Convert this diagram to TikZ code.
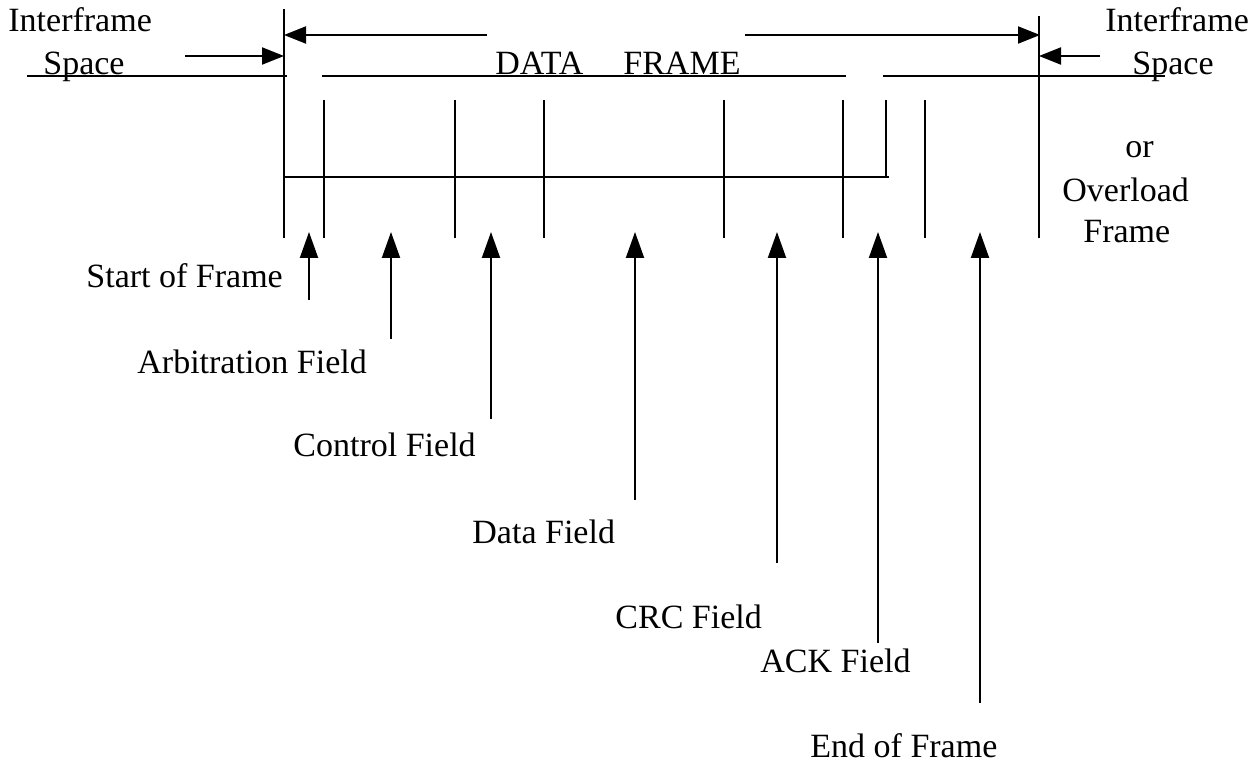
\documentclass[tikz,border=0pt]{standalone}
\usepackage{fontspec}
\setmainfont{Liberation Serif}
\usetikzlibrary{arrows.meta}
\begin{document}
\begin{tikzpicture}[x=0.5pt,y=-0.5pt,
  ln/.style={line width=1pt},
  uparrow/.style={line width=1pt,-{Triangle[length=13pt,width=9pt]}},
  harrow/.style={line width=1pt,-{Triangle[length=11pt,width=8.5pt]}},
  lbl/.style={anchor=base west,inner sep=0pt,font=\fontsize{17}{20}\selectfont}]
\useasboundingbox (0,0) rectangle (1254,763);
% frame lines
\coordinate (lvT) at (284,9);   \coordinate (lvB) at (284,238);
\coordinate (rvT) at (1039,16); \coordinate (rvB) at (1039,238);
\draw[ln] (lvT) -- (lvB);
\draw[ln] (rvT) -- (rvB);
\coordinate (h1a) at (27,76);  \coordinate (h1b) at (287,76);
\coordinate (h2a) at (322,76); \coordinate (h2b) at (846,76);
\coordinate (h3a) at (883,76); \coordinate (h3b) at (1165,76);
\draw[ln] (h1a) -- (h1b);
\draw[ln] (h2a) -- (h2b);
\draw[ln] (h3a) -- (h3b);
\coordinate (hbA) at (284,177); \coordinate (hbB) at (889,177);
\draw[ln] (hbA) -- (hbB);
\foreach \x/\n in {324/a,455/b,544/c,724/d,843/e,925/f}{
  \coordinate (t\n1) at (\x,100); \coordinate (t\n2) at (\x,238);
  \draw[ln] (t\n1) -- (t\n2);
}
\coordinate (tg1) at (886,100); \coordinate (tg2) at (886,177);
\draw[ln] (tg1) -- (tg2);
% top arrows
\coordinate (la0) at (487,35); \coordinate (la1) at (284,35);
\coordinate (ra0) at (745,35); \coordinate (ra1) at (1040,35);
\coordinate (li0) at (185,56); \coordinate (li1) at (284,56);
\coordinate (ri0) at (1100,56); \coordinate (ri1) at (1039,56);
\draw[harrow] (la0) -- (la1);
\draw[harrow] (ra0) -- (ra1);
\draw[harrow] (li0) -- (li1);
\draw[harrow] (ri0) -- (ri1);
% texts top
\node[lbl] (ifl) at (8,32) {Interframe};
\node[lbl] (spl) at (43,75) {Space};
\node[lbl] (ifr) at (1105,32) {Interframe};
\node[lbl] (spr) at (1132,75) {Space};
\node[lbl] (data) at (495,75) {DATA};
\node[lbl] (frame) at (623,75) {FRAME};
\node[lbl] (or) at (1125,158) {or};
\node[lbl] (ovl) at (1062,202) {Overload};
\node[lbl] (ofr) at (1083,243) {Frame};
% field arrows
\coordinate (sofB) at (309,300); \coordinate (sofT) at (309,232);
\coordinate (arbB) at (391,339); \coordinate (arbT) at (391,232);
\coordinate (ctlB) at (491,419); \coordinate (ctlT) at (491,232);
\coordinate (datB) at (635,500); \coordinate (datT) at (635,232);
\coordinate (crcB) at (777,563); \coordinate (crcT) at (777,232);
\coordinate (ackB) at (878,643); \coordinate (ackT) at (878,232);
\coordinate (eofB) at (980,703); \coordinate (eofT) at (980,232);
\draw[uparrow] (sofB) -- (sofT);
\draw[uparrow] (arbB) -- (arbT);
\draw[uparrow] (ctlB) -- (ctlT);
\draw[uparrow] (datB) -- (datT);
\draw[uparrow] (crcB) -- (crcT);
\draw[uparrow] (ackB) -- (ackT);
\draw[uparrow] (eofB) -- (eofT);
% field labels
\node[lbl] (sof) at (86,288) {Start of Frame};
\node[lbl] (arb) at (137,374) {Arbitration Field};
\node[lbl] (ctl) at (293,457) {Control Field};
\node[lbl] (dat) at (472,544) {Data Field};
\node[lbl] (crc) at (615,629) {CRC Field};
\node[lbl] (ack) at (760,673) {ACK Field};
\node[lbl] (eof) at (810,758) {End of Frame};
\end{tikzpicture}
\end{document}
